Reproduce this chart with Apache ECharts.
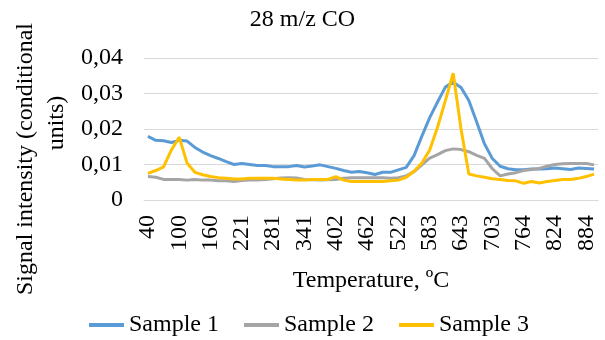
<!DOCTYPE html>
<html>
<head>
<meta charset="utf-8">
<script src="https://cdn.jsdelivr.net/npm/echarts@6/dist/echarts.min.js"></script>
<style>
    html, body { margin: 0; padding: 0; background: #fff; }
    #main { width: 605px; height: 340px; }
</style>
</head>
<body>
<div id="main"></div>
<script>
var temps = [40,55,70,85,100,115,130,145,160,175,190,206,221,236,251,266,281,296,311,326,
    341,356,371,387,402,417,432,447,462,477,492,507,522,537,553,568,583,598,613,628,
    643,658,673,688,703,718,733,749,764,779,794,809,824,839,854,869,884,899];

var sample1 = [0.0179,0.0168,0.0167,0.0162,0.0168,0.0166,0.0148,0.0135,0.0125,0.0117,
    0.0108,0.0100,0.0103,0.0100,0.0097,0.0097,0.0094,0.0094,0.0094,0.0097,
    0.0093,0.0096,0.0099,0.0094,0.0089,0.0083,0.0078,0.0080,0.0077,0.0072,
    0.0078,0.0078,0.0085,0.0092,0.0125,0.0180,0.0232,0.0276,0.0318,0.0332,
    0.0317,0.0280,0.0220,0.0158,0.0117,0.0095,0.0088,0.0085,0.0085,0.0087,
    0.0087,0.0088,0.0090,0.0088,0.0086,0.0090,0.0089,0.0087];

var sample2 = [0.0066,0.0064,0.0058,0.0058,0.0058,0.0056,0.0058,0.0056,0.0056,0.0054,
    0.0054,0.0052,0.0055,0.0056,0.0056,0.0058,0.0060,0.0062,0.0063,0.0062,
    0.0058,0.0057,0.0056,0.0057,0.0058,0.0061,0.0063,0.0063,0.0063,0.0063,
    0.0063,0.0061,0.0063,0.0068,0.0080,0.0099,0.0118,0.0128,0.0139,0.0144,
    0.0142,0.0136,0.0126,0.0117,0.0088,0.0068,0.0073,0.0077,0.0083,0.0086,
    0.0089,0.0095,0.0100,0.0102,0.0103,0.0103,0.0103,0.0099];

var sample3 = [0.0075,0.0083,0.0093,0.0141,0.0177,0.0104,0.0078,0.0071,0.0066,0.0063,
    0.0061,0.0059,0.0059,0.0061,0.0061,0.0061,0.0061,0.0059,0.0058,0.0056,
    0.0056,0.0058,0.0058,0.0058,0.0066,0.0056,0.0052,0.0052,0.0052,0.0052,
    0.0052,0.0054,0.0056,0.0064,0.0081,0.0104,0.0141,0.0205,0.0280,0.0357,
    0.0200,0.0073,0.0068,0.0064,0.0060,0.0058,0.0055,0.0054,0.0047,0.0052,
    0.0048,0.0052,0.0055,0.0058,0.0058,0.0061,0.0066,0.0073];

var seriesNames = ['Sample 1', 'Sample 2', 'Sample 3'];
var colors = ['#5B9BD5', '#A5A5A5', '#FFC000'];

var font = "'Liberation Serif', 'Times New Roman', serif";
var myChart = echarts.init(document.getElementById('main'));

function lineSeries(name, data, color) {
    return {
        name: name,
        type: 'line',
        symbol: 'none',
        showSymbol: false,
        data: data,
        lineStyle: { color: color, width: 3 },
        itemStyle: { color: color }
    };
}

var option = {
    animation: false,
    color: colors,
    textStyle: { fontFamily: font, color: '#000' },
    title: {
        text: '28 m/z CO',
        left: 'center',
        top: 8,
        padding: 0,
        textStyle: { fontFamily: font, fontSize: 24, fontWeight: 'normal', color: '#000' }
    },
    grid: { left: 144, right: 7, top: 58, bottom: 140 },
    legend: {
        data: seriesNames,
        left: 89,
        top: 313,
        padding: 0,
        icon: 'rect',
        itemWidth: 35,
        itemHeight: 4,
        itemGap: 25,
        textStyle: { fontFamily: font, fontSize: 24, color: '#000' }
    },
    xAxis: {
        type: 'category',
        data: temps,
        boundaryGap: true,
        name: 'Temperature, ºC',
        nameLocation: 'middle',
        nameGap: 69,
        nameTextStyle: { fontFamily: font, fontSize: 24, color: '#000' },
        axisLine: { show: true, lineStyle: { color: '#D9D9D9', width: 1 } },
        axisTick: { show: false },
        axisLabel: {
            interval: 3,
            rotate: 90,
            margin: 15,
            fontFamily: font,
            fontSize: 24,
            color: '#000'
        },
        splitLine: { show: false }
    },
    yAxis: {
        type: 'value',
        min: 0,
        max: 0.04,
        interval: 0.01,
        axisLine: { show: false },
        axisTick: { show: false },
        axisLabel: {
            margin: 21,
            padding: [12, 0, 0, 0],
            fontFamily: font,
            fontSize: 24,
            color: '#000',
            formatter: function (v) {
                if (v === 0) return '0';
                return v.toFixed(2).replace('.', ',');
            }
        },
        splitLine: { show: true, lineStyle: { color: '#D9D9D9', width: 1 } }
    },
    // two-line rotated axis title, placed by hand like the original
    graphic: [
        {
            type: 'text',
            x: 26,
            y: 159,
            rotation: Math.PI / 2,
            style: {
                text: 'Signal intensity (conditional',
                fontFamily: font,
                fontSize: 24,
                fill: '#000',
                align: 'center',
                verticalAlign: 'middle'
            }
        },
        {
            type: 'text',
            x: 57,
            y: 123,
            rotation: Math.PI / 2,
            style: {
                text: 'units)',
                fontFamily: font,
                fontSize: 24,
                fill: '#000',
                align: 'center',
                verticalAlign: 'middle'
            }
        }
    ],
    series: [
        lineSeries(seriesNames[0], sample1, colors[0]),
        lineSeries(seriesNames[1], sample2, colors[1]),
        lineSeries(seriesNames[2], sample3, colors[2])
    ]
};

myChart.setOption(option);
</script>
</body>
</html>
